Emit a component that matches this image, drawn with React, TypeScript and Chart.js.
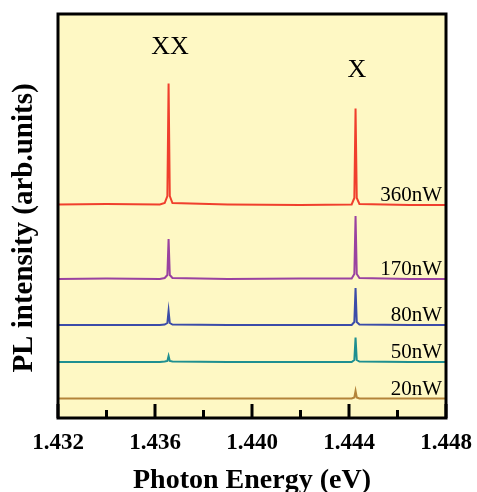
import React, { useEffect, useRef } from "react";
import { Chart, registerables } from "chart.js";

Chart.register(...registerables);

// Photon energy grid (eV) shared by all spectra
const energy = [
  1.432, 1.434, 1.4362, 1.4364, 1.43651, 1.43656, 1.43661, 1.43672, 1.439, 1.442,
  1.44411, 1.44422, 1.44427, 1.44432, 1.44443, 1.4465, 1.448,
];

// PL intensity (arb. units, vertically offset per power)
const pl360 = [213.5, 214, 213.5, 215, 222, 334.5, 222, 215, 213.5, 213, 213.5, 220, 309.5, 220, 214, 213, 213];
const pl170 = [139, 139.5, 139, 140, 143, 179, 143, 140, 139, 139.5, 139.5, 144, 202, 144, 140, 139, 139];
const pl80 = [93, 93, 93, 93.5, 95, 107, 95, 93.5, 93, 93, 93, 96, 130, 96, 93.5, 93, 93];
const pl50 = [56, 56, 56, 56.5, 57, 62, 57, 56.5, 56, 56, 56, 58, 80.5, 58, 56.5, 56, 56];
const pl20 = [19.5, 19.5, 19.5, 19.5, 19.5, 19.5, 19.5, 19.5, 19.5, 19.5, 19.5, 20.5, 27, 20.5, 19.5, 19.5, 19.5];

const seriesNames = ["360nW", "170nW", "80nW", "50nW", "20nW"];
const seriesValues = [pl360, pl170, pl80, pl50, pl20];
const seriesColors = ["#F03F2D", "#9A42A0", "#3B4CA8", "#1E8F90", "#B3843A"];
const seriesBaselines = [213.5, 139, 93, 56, 19.5];

const xTicks = [1.432, 1.436, 1.44, 1.444, 1.448];
const xMinorTicks = [1.434, 1.438, 1.442, 1.446];

const peakLabels = ["XX", "X"];
const peakLabelX = [1.43662, 1.44433];
const peakLabelY = [371, 347.5];

const SERIF = '"Liberation Serif", "Times New Roman", Times, serif';

export default function App() {
  const ref = useRef<HTMLCanvasElement | null>(null);

  useEffect(() => {
    document.body.style.margin = "0";
    const canvas = ref.current;
    if (!canvas) return;

    const decor = {
      id: "decor",
      beforeDatasetsDraw(chart: any) {
        const { ctx, chartArea: a } = chart;
        ctx.save();
        ctx.fillStyle = "#FEF8C4";
        ctx.fillRect(a.left, a.top, a.right - a.left, a.bottom - a.top);
        ctx.restore();
      },
      afterDatasetsDraw(chart: any) {
        const { ctx, chartArea: a, scales } = chart;
        const xs = scales.x;
        const ys = scales.y;
        ctx.save();
        // inward ticks
        ctx.strokeStyle = "#000";
        ctx.lineWidth = 3;
        ctx.beginPath();
        xTicks.forEach((v) => {
          const px = xs.getPixelForValue(v);
          ctx.moveTo(px, a.bottom);
          ctx.lineTo(px, a.bottom - 14);
        });
        xMinorTicks.forEach((v) => {
          const px = xs.getPixelForValue(v);
          ctx.moveTo(px, a.bottom);
          ctx.lineTo(px, a.bottom - 8);
        });
        ctx.stroke();
        // frame
        ctx.lineWidth = 3;
        ctx.strokeRect(a.left, a.top, a.right - a.left, a.bottom - a.top);

        // peak labels
        ctx.fillStyle = "#000";
        ctx.font = `26px ${SERIF}`;
        ctx.textAlign = "center";
        ctx.textBaseline = "middle";
        peakLabels.forEach((t, i) => {
          ctx.fillText(t, xs.getPixelForValue(peakLabelX[i]), ys.getPixelForValue(peakLabelY[i]));
        });

        // power labels
        ctx.font = `21px ${SERIF}`;
        ctx.textAlign = "right";
        ctx.textBaseline = "alphabetic";
        seriesNames.forEach((t, i) => {
          ctx.fillText(t, a.right - 4, ys.getPixelForValue(seriesBaselines[i]) - 4);
        });

        // y-axis title
        ctx.font = `bold 29px ${SERIF}`;
        ctx.textAlign = "center";
        ctx.textBaseline = "middle";
        ctx.translate(25, (a.top + a.bottom) / 2 + 12);
        ctx.rotate(-Math.PI / 2);
        ctx.fillText("PL intensity (arb.units)", 0, 0);
        ctx.restore();
      },
    };

    const chart = new Chart(canvas, {
      type: "line",
      data: {
        datasets: seriesValues.map((vals, i) => ({
          label: seriesNames[i],
          data: energy.map((e, j) => ({ x: e, y: vals[j] })),
          borderColor: seriesColors[i],
          backgroundColor: seriesColors[i],
          borderWidth: 2,
          pointRadius: 0,
          tension: 0,
          fill: false,
        })),
      },
      options: {
        responsive: false,
        animation: false,
        events: [],
        layout: { padding: { left: 58, right: 31, top: 14, bottom: 0 } },
        plugins: { legend: { display: false }, tooltip: { enabled: false } },
        scales: {
          x: {
            type: "linear",
            min: 1.432,
            max: 1.448,
            afterBuildTicks: (scale: any) => {
              scale.ticks = xTicks.map((v) => ({ value: v }));
            },
            afterFit: (scale: any) => {
              scale.height = 74;
            },
            ticks: {
              color: "#000",
              padding: 3,
              maxRotation: 0,
              autoSkip: false,
              font: { family: SERIF, size: 23, weight: "bold" },
              callback: (v: any) => Number(v).toFixed(3),
            },
            grid: { display: false },
            border: { display: false },
            title: {
              display: true,
              text: "Photon Energy (eV)",
              color: "#000",
              padding: { top: 0, bottom: -3 },
              font: { family: SERIF, size: 28, weight: "bold", lineHeight: 1 },
            },
          },
          y: { display: false, min: 0, max: 404 },
        },
      },
      plugins: [decor],
    });

    return () => chart.destroy();
  }, []);

  return (
    <div style={{ position: "absolute", left: 0, top: 0, width: 477, height: 492 }}>
      <canvas ref={ref} width={477} height={492} style={{ display: "block" }} />
    </div>
  );
}
